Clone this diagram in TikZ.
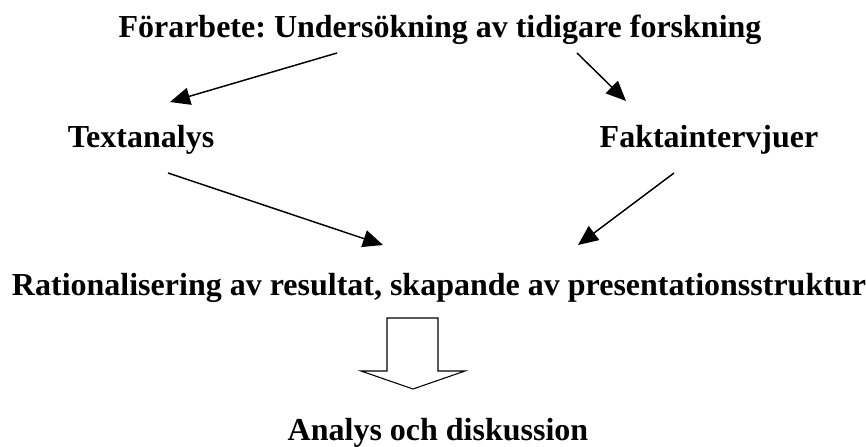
\documentclass[tikz,border=0pt]{standalone}
\usepackage{fontspec}
\setmainfont{Liberation Serif}
\usetikzlibrary{arrows.meta}
\frenchspacing

\tikzset{
    steptext/.style={anchor=base,inner sep=0pt,font=\bfseries\fontsize{24pt}{28pt}\selectfont},
    flow/.style={line width=1.1pt,-{Triangle[length=15pt,width=13pt]}}
}

\begin{document}
\begin{tikzpicture}[x=0.75pt,y=-0.75pt]
            \useasboundingbox (0,0) rectangle (866,446);
            \node[steptext] (pre) at (440,37) {Förarbete: Undersökning av tidigare forskning};
            \node[steptext] (text) at (141,147) {Textanalys};
            \node[steptext] (fakta) at (709,147) {Faktaintervjuer};
            \node[steptext] (rat) at (439,295) {Rationalisering av resultat, skapande av presentationsstruktur};
            \node[steptext] (ana) at (438,440) {Analys och diskussion};
            % arrow ends
            \coordinate (a1) at (337,53);
            \coordinate (b1) at (170,102);
            \coordinate (a2) at (577,53);
            \coordinate (b2) at (626,101);
            \coordinate (a3) at (168,173);
            \coordinate (b3) at (383,245);
            \coordinate (a4) at (674,173);
            \coordinate (b4) at (578,245);
            \draw[flow] (a1)--(b1);
            \draw[flow] (a2)--(b2);
            \draw[flow] (a3)--(b3);
            \draw[flow] (a4)--(b4);
            % block arrow
            \draw[line width=0.8pt] (387,318)--(438,318)--(438,371)--(465,371)--(413,389)--(361,371)--(387,371)--cycle;
        \end{tikzpicture}
\end{document}
